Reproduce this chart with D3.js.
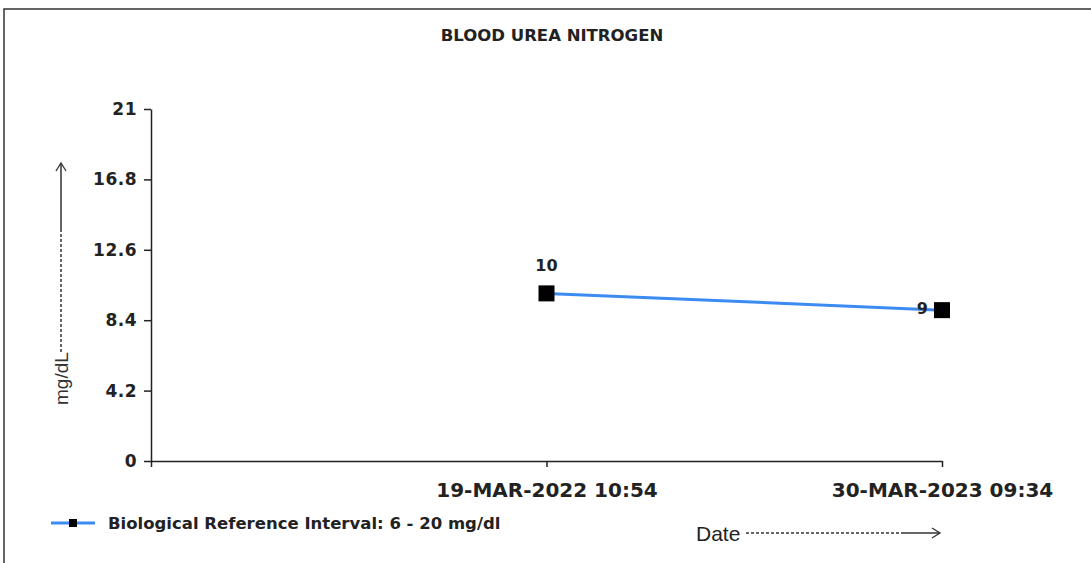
<!DOCTYPE html>
<html>
<head>
<meta charset="utf-8">
<script src="https://cdn.jsdelivr.net/npm/d3@7"></script>
<style>
  body { margin: 0; background: #fff; }
  svg { display: block; }
</style>
</head>
<body>
<script>
// chart data
var title = "BLOOD UREA NITROGEN";
var dates = ["19-MAR-2022 10:54", "30-MAR-2023 09:34"];
var values = [10, 9];
var yTicks = [0, 4.2, 8.4, 12.6, 16.8, 21];
var seriesName = "Biological Reference Interval: 6 - 20 mg/dl";

var width = 1091, height = 563;

var svg = d3.select("body")
	.append("svg")
	.attr("width", width)
	.attr("height", height);

// frame lines (top and left only)
svg.append("path")
	.attr("d", "M4," + height + "V9H" + width)
	.attr("fill", "none")
	.attr("stroke", "#333")
	.attr("stroke-width", 1.5);

svg.append("text")
	.attr("x", 552)
	.attr("y", 41)
	.attr("text-anchor", "middle")
	.style("font-family", "'DejaVu Sans'")
	.style("font-weight", "bold")
	.style("font-size", "16.5px")
	.style("fill", "#222")
	.text(title);

var x = d3.scaleLinear()
	.domain([0, dates.length])
	.range([151, 942]);

var y = d3.scaleLinear()
	.domain([0, 21])
	.range([461, 109]);

var yAxis = svg.append("g")
	.attr("transform", "translate(151,0)")
	.attr("font-size", 17)
	.call(d3.axisLeft(y).tickValues(yTicks).tickSize(7).tickSizeOuter(0).tickPadding(7)
		.tickFormat(function(d) { return d; }));

var xAxis = svg.append("g")
	.attr("transform", "translate(0,461)")
	.attr("font-size", 20)
	.call(d3.axisBottom(x).tickValues(d3.range(dates.length + 1)).tickSize(6).tickSizeOuter(0).tickPadding(16)
		.tickFormat(function(d) { return d === 0 ? "" : dates[d - 1]; }));

svg.selectAll(".domain, .tick line")
	.attr("stroke", "#222")
	.attr("stroke-width", 1.5);

yAxis.selectAll("text")
	.style("font-family", "'DejaVu Sans'")
	.style("font-weight", "bold")
	.style("font-size", "17px")
	.style("letter-spacing", "0.5px")
	.style("fill", "#222");

xAxis.selectAll("text")
	.style("font-family", "'DejaVu Sans'")
	.style("font-weight", "bold")
	.style("font-size", "20px")
	.style("fill", "#222");

// series line
var line = d3.line()
	.x(function(d, i) { return x(i + 1); })
	.y(function(d) { return y(d); });

svg.append("path")
	.datum(values)
	.attr("d", line)
	.attr("fill", "none")
	.attr("stroke", "#3b8bf2")
	.attr("stroke-width", 3);

svg.selectAll(".marker")
	.data(values)
	.enter()
	.append("rect")
	.attr("class", "marker")
	.attr("x", function(d, i) { return x(i + 1) - 8; })
	.attr("y", function(d) { return y(d) - 8; })
	.attr("width", 16)
	.attr("height", 16)
	.attr("fill", "#000");

// value labels: above the point, last one on its left
svg.selectAll(".vlabel")
	.data(values)
	.enter()
	.append("text")
	.attr("class", "vlabel")
	.attr("x", function(d, i) { return i === values.length - 1 ? x(i + 1) - 14 : x(i + 1); })
	.attr("y", function(d, i) { return i === values.length - 1 ? y(d) + 4 : y(d) - 22; })
	.attr("text-anchor", function(d, i) { return i === values.length - 1 ? "end" : "middle"; })
	.style("font-family", "'DejaVu Sans'")
	.style("font-weight", "bold")
	.style("font-size", "16px")
	.style("fill", "#222")
	.text(function(d) { return d; });

// legend
var legend = svg.append("g").attr("transform", "translate(51,523)");
legend.append("line")
	.attr("x1", 0).attr("x2", 44)
	.attr("stroke", "#3b8bf2")
	.attr("stroke-width", 3);
legend.append("rect")
	.attr("x", 18).attr("y", -4)
	.attr("width", 8).attr("height", 8)
	.attr("fill", "#000");
legend.append("text")
	.attr("x", 57)
	.attr("y", 6)
	.style("font-family", "'DejaVu Sans'")
	.style("font-weight", "bold")
	.style("font-size", "16.5px")
	.style("fill", "#222")
	.text(seriesName);

// axis titles with dotted-then-solid arrows
function arrow(g, len, dotted) {
	g.append("line")
		.attr("x1", 0).attr("x2", dotted)
		.attr("stroke", "#333")
		.attr("stroke-width", 1.5)
		.attr("stroke-dasharray", "3,2");
	g.append("line")
		.attr("x1", dotted).attr("x2", len)
		.attr("stroke", "#333")
		.attr("stroke-width", 1.5);
	g.append("path")
		.attr("d", "M" + (len - 8) + ",-5L" + len + ",0L" + (len - 8) + ",5")
		.attr("fill", "none")
		.attr("stroke", "#333")
		.attr("stroke-width", 1.3);
}

svg.append("text")
	.attr("x", 696)
	.attr("y", 541)
	.style("font-family", "'Liberation Sans Narrow', 'Liberation Sans'")
	.style("font-size", "21px")
	.style("fill", "#222")
	.text("Date");
arrow(svg.append("g").attr("transform", "translate(746,533)"), 194, 158);

svg.append("text")
	.attr("transform", "translate(68,405) rotate(-90)")
	.style("font-family", "'Liberation Sans Narrow', 'Liberation Sans'")
	.style("font-size", "19px")
	.style("fill", "#333")
	.text("mg/dL");
arrow(svg.append("g").attr("transform", "translate(61,352) rotate(-90)"), 189, 120);
</script>
</body>
</html>
